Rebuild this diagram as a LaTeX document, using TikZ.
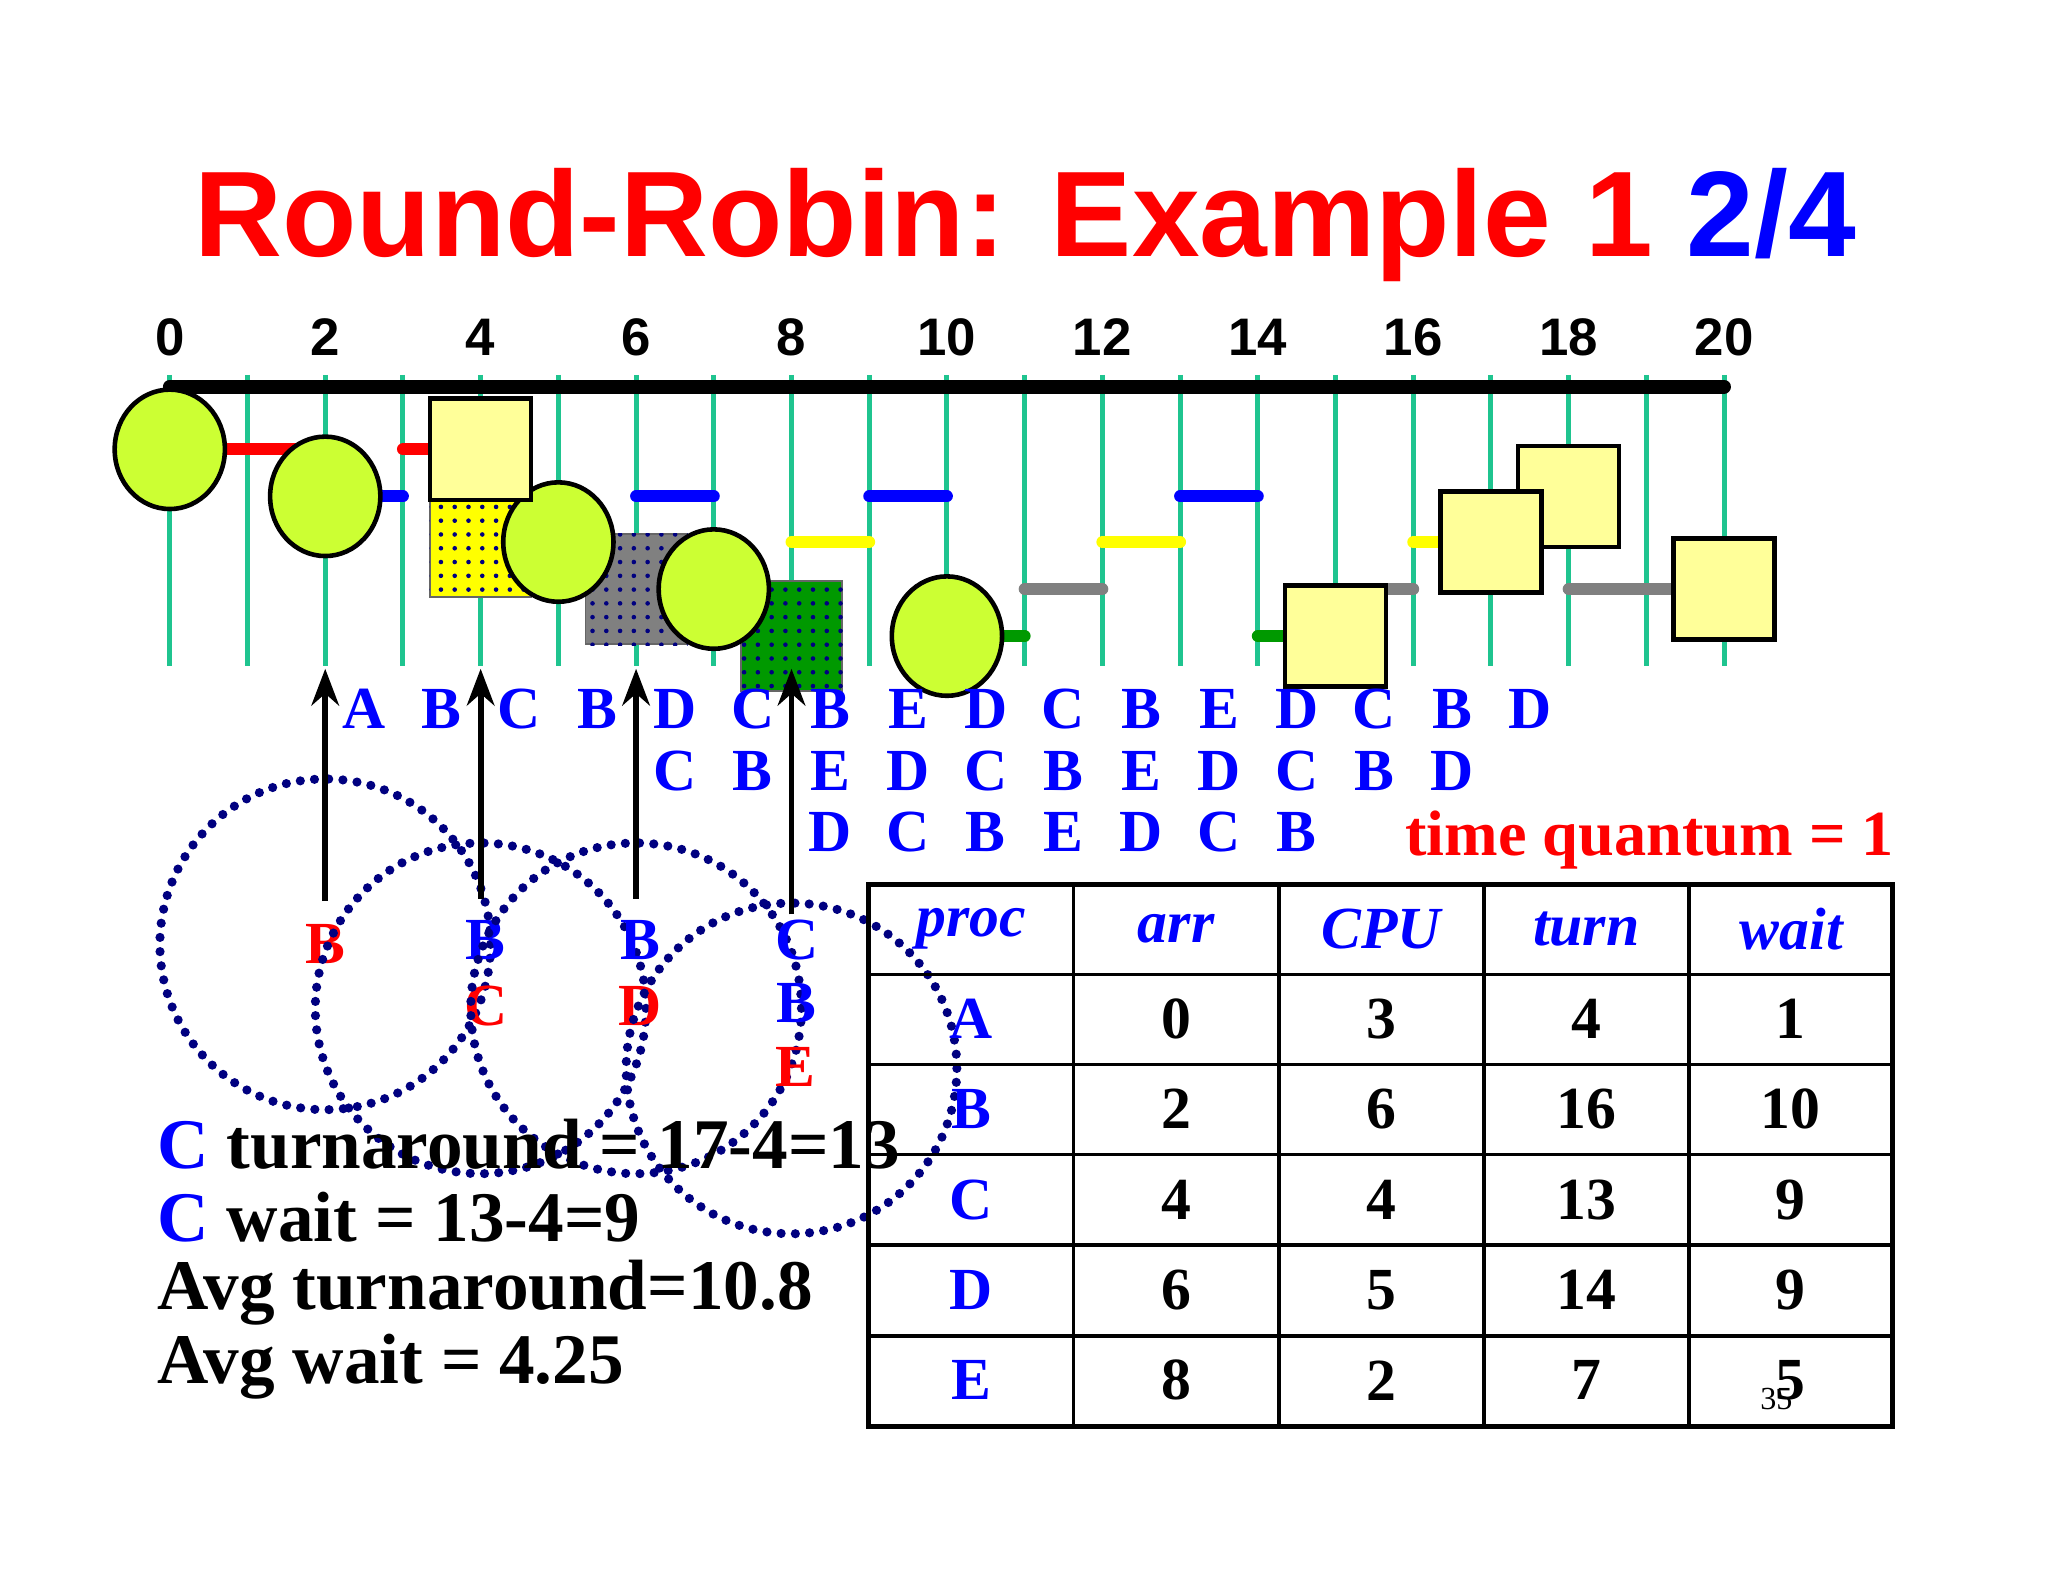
\documentclass[tikz,border=0pt]{standalone}
\usepackage{fontspec}
\setmainfont{Liberation Serif}
\setsansfont{Liberation Sans}
\usetikzlibrary{arrows.meta,patterns,shapes.geometric}
\definecolor{tick}{HTML}{1FC48F}
\definecolor{lime}{HTML}{CCFF33}
\definecolor{pale}{HTML}{FFFF99}
\definecolor{navy}{HTML}{000080}
\definecolor{pgreen}{HTML}{009900}
\definecolor{pgray}{HTML}{808080}
\definecolor{pyel}{HTML}{FFFF00}
\tikzset{
 seg/.style={line width=2.6pt,line cap=round},
 startc/.style={ellipse,draw=black,line width=1pt,fill=lime,minimum width=24,minimum height=26,inner sep=0},
 endsq/.style={rectangle,draw=black,line width=1pt,fill=pale,minimum size=22,inner sep=0},
 arrsq/.style={rectangle,draw=black!60,line width=0.4pt,minimum width=22,minimum height=24,inner sep=0},
 ql/.style={font=\fontsize{13}{13}\selectfont\bfseries,text=blue,inner sep=0},
 dc/.style={circle,draw=navy,line width=2pt,dash pattern=on 0pt off 3.1pt,line cap=round,minimum size=72,inner sep=0},
 tl/.style={font=\fontsize{13}{13}\selectfont\bfseries,inner sep=0},
 bt/.style={font=\fontsize{15.5}{15.5}\selectfont\bfseries,anchor=west,inner sep=0},
 upar/.style={line width=1.3pt,-{Stealth[length=8pt,width=6pt]}},
}
\begin{document}
\begin{tikzpicture}[x=0.01cm,y=-0.01cm]
\useasboundingbox (0,0) rectangle (1568,1211);
\fill[white] (0,0) rectangle (1568,1211);
% title
\node[font=\sffamily\bfseries\fontsize{26.5}{26.5}\selectfont,inner sep=0] (title) at (785,172) {\textcolor{red}{Round-Robin: Example 1} \textcolor{blue}{2/4}};
% ticks
\foreach \t in {0,...,20}{
 \coordinate (t\t) at ({130+59.5*\t},296);
 \draw[tick,line width=1.1pt] ({130+59.5*\t},287) -- ({130+59.5*\t},510);}
\foreach \t in {0,2,...,20}{
 \node[font=\sffamily\bfseries\fontsize{11.5}{11.5}\selectfont,inner sep=0] (lab\t) at ({130+59.5*\t},258) {\t};}
\draw[line width=3pt,line cap=round] (t0) -- (t20);
% segments
\def\X#1{{130+59.5*#1}}
\foreach \a/\b in {0/2,3/4} \draw[seg,red] (\X\a,344) -- (\X\b,344);
\foreach \a/\b in {2/3,4/5,6/7,9/10,13/14,17/18} \draw[seg,blue] (\X\a,380) -- (\X\b,380);
\foreach \a/\b in {5/6,8/9,12/13,16/17} \draw[seg,pyel] (\X\a,415) -- (\X\b,415);
\foreach \a/\b in {7/8,11/12,15/16,18/20} \draw[seg,pgray] (\X\a,451) -- (\X\b,451);
\foreach \a/\b in {10/11,14/15} \draw[seg,pgreen] (\X\a,487) -- (\X\b,487);
% arrival squares
\node[arrsq,fill=pyel] (ac) at (\X{4},415) {};
\node[arrsq,fill=pgray] (ad) at (\X{6},451) {};
\node[arrsq,fill=pgreen] (ae) at (\X{8},487) {};
\foreach \n in {ac,ad,ae} \fill[pattern=dots,pattern color=navy] (\n.south west) rectangle (\n.north east);
% start circles
\node[startc] (sa) at (\X{0},344) {};
\node[startc] (sb) at (\X{2},380) {};
\node[startc] (sc) at (\X{5},415) {};
\node[startc] (sd) at (\X{7},451) {};
\node[startc] (se) at (\X{10},487) {};
% end squares
\node[endsq] (ea) at (\X{4},344) {};
\node[endsq] (eb) at (\X{18},380) {};
\node[endsq] (ec) at (\X{17},415) {};
\node[endsq] (ed) at (\X{20},451) {};
\node[endsq] (ee) at (\X{15},487) {};
% queue letters
\foreach \l [count=\k from 0] in {A,B,C,B,D,C,B,E,D,C,B,E,D,C,B,D}
 \node[ql] (q1\k) at ({130+59.5*(2.5+\k)},543) {\l};
\foreach \l [count=\k from 4] in {C,B,E,D,C,B,E,D,C,B,D}
 \node[ql] (q2\k) at ({130+59.5*(2.5+\k)},590) {\l};
\foreach \l [count=\k from 6] in {D,C,B,E,D,C,B}
 \node[ql] (q3\k) at ({130+59.5*(2.5+\k)},637) {\l};
% arrows
\coordinate (r2) at (\X{2},512); \coordinate (r4) at (\X{4},512);
\coordinate (r6) at (\X{6},512); \coordinate (r8) at (\X{8},512);
\node[dc] (cB) at (\X{2},723) {};
\node[ql,text=red] (cBt) at (cB) {B};
\node[ql] (b4) at (372,720) {B};
\node[dc] (cC) at (\X{4},772) {};
\node[ql,text=red] (cCt) at (372,770) {C};
\node[ql] (b6) at (490,720) {B};
\node[dc] (cD) at (\X{6},772) {};
\node[ql,text=red] (cDt) at (490,770) {D};
\node[ql] (c8) at (610,720) {C};
\node[ql] (b8) at (610,768) {B};
\node[dc] (cE) at (606,818) {};
\node[ql,text=red] (cEt) at (609,817) {E};
\coordinate (f2) at (\X{2},690); \coordinate (f4) at (\X{4},688);
\coordinate (f6) at (\X{6},688); \coordinate (f8) at (\X{8},700);
\draw[upar] (f2) -- (r2);
\draw[upar] (f4) -- (r4);
\draw[upar] (f6) -- (r6);
\draw[upar] (f8) -- (r8);
% time quantum
\node[font=\fontsize{14}{14}\selectfont\bfseries,text=red,inner sep=0] (tq) at (1263,643) {time quantum = 1};
% table
\draw[line width=1.2pt] (665,677) rectangle (1449,1092);
\foreach \x in {822,979,1136,1293} \draw[line width=0.8pt] (\x,677) -- (\x,1092);
\foreach \y in {746,815,884,953,1023} \draw[line width=0.8pt] (665,\y) -- (1449,\y);
\foreach \h [count=\i from 0] in {proc,arr,CPU,turn,wait}
 \node[tl,text=blue,font=\fontsize{13}{13}\selectfont\bfseries\itshape] (h\i) at ({743.5+157*\i},711) {\h};
\foreach \p/\a/\c/\t/\w [count=\r from 0] in {A/0/3/4/1,B/2/6/16/10,C/4/4/13/9,D/6/5/14/9,E/8/2/7/5}{
 \node[tl,text=blue] (p\r) at (743.5,{780+69.2*\r}) {\p};
 \node[tl] (a\r) at (900.5,{780+69.2*\r}) {\a};
 \node[tl] (c\r) at (1057.5,{780+69.2*\r}) {\c};
 \node[tl] (u\r) at (1214.5,{780+69.2*\r}) {\t};
 \node[tl] (w\r) at (1371,{780+69.2*\r}) {\w};}
\node[font=\fontsize{7}{7}\selectfont,inner sep=0] (pg) at (1360,1071) {35};
% bottom text
\node[bt] (l1) at (120,876) {\textcolor{blue}{C} turnaround = 17-4=13};
\node[bt] (l2) at (120,932) {\textcolor{blue}{C} wait = 13-4=9};
\node[bt] (l3) at (120,990) {Avg turnaround=10.8};
\node[bt] (l4) at (120,1046) {Avg wait = 4.25};
\end{tikzpicture}
\end{document}
